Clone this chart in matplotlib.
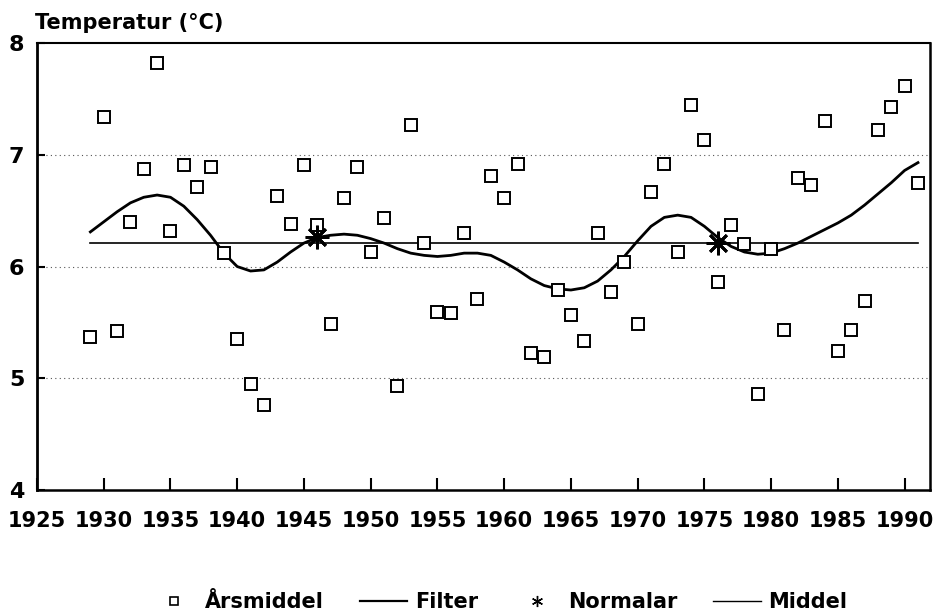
import matplotlib
matplotlib.use("Agg")
import matplotlib.pyplot as plt
from matplotlib.lines import Line2D

# Årsmiddel (annual mean temperature)
years = list(range(1929, 1992))
arsmiddel = [
    5.37, 7.34, 5.42, 6.40, 6.87, 7.82, 6.32, 6.91, 6.71, 6.89,  # 1929-1938
    6.12, 5.35, 4.95, 4.76, 6.63, 6.38, 6.91, 6.37, 5.49, 6.61,  # 1939-1948
    6.89, 6.13, 6.43, 4.93, 7.27, 6.21, 5.59, 5.58, 6.30, 5.71,  # 1949-1958
    6.81, 6.61, 6.92, 5.23, 5.19, 5.79, 5.57, 5.33, 6.30, 5.77,  # 1959-1968
    6.04, 5.49, 6.67, 6.92, 6.13, 7.45, 7.13, 5.86, 6.37, 6.20,  # 1969-1978
    4.86, 6.16, 5.43, 6.79, 6.73, 7.30, 5.24, 5.43, 5.69, 7.22,  # 1979-1988
    7.43, 7.62, 6.75,                                            # 1989-1991
]

# Filter (smoothed curve, read per year)
filter_vals = [
    6.31, 6.40, 6.49, 6.57, 6.62, 6.64, 6.62, 6.54, 6.42, 6.28,
    6.12, 6.00, 5.96, 5.97, 6.04, 6.13, 6.21, 6.26, 6.28, 6.29,
    6.28, 6.25, 6.21, 6.16, 6.12, 6.10, 6.09, 6.10, 6.12, 6.12,
    6.10, 6.04, 5.97, 5.89, 5.83, 5.80, 5.79, 5.81, 5.87, 5.97,
    6.09, 6.23, 6.36, 6.44, 6.46, 6.44, 6.36, 6.26, 6.18, 6.13,
    6.11, 6.12, 6.16, 6.21, 6.27, 6.33, 6.39, 6.46, 6.55, 6.65,
    6.75, 6.86, 6.93,
]

# Normalar
normal_years = [1946, 1976]
normal_vals = [6.26, 6.21]

# Middel
middel_years = [1929, 1991]
middel_val = 6.21

xticks = list(range(1925, 1991, 5))
yticks = [4, 5, 6, 7, 8]

plt.rcParams['font.family'] = ['DejaVu Sans']
plt.rcParams['font.weight'] = 'bold'

fig = plt.figure(figsize=(9.34, 6.16), dpi=100)
ax = fig.add_axes([0.0396, 0.2045, 0.9561, 0.7256])

# grid lines at 5, 6, 7
for g in [5, 6, 7]:
    ax.axhline(g, color='#555555', linestyle=(0, (1, 3)), linewidth=0.8, zorder=1)

ax.plot(middel_years, [middel_val, middel_val], color='black', linewidth=1.2, zorder=2)
ax.plot(years, filter_vals, color='black', linewidth=2.0, zorder=3)
ax.plot(years, arsmiddel, linestyle='none', marker='s', markersize=8.5,
        markerfacecolor='white', markeredgecolor='black', markeredgewidth=1.4, zorder=4)
ax.plot(normal_years, normal_vals, linestyle='none', marker=(8, 2, 0), markersize=17,
        markeredgecolor='black', markeredgewidth=2.0, zorder=5)

ax.set_xlim(1925, 1991.9)
ax.set_ylim(4, 8)
ax.set_xticks(xticks)
ax.set_yticks(yticks)
ax.tick_params(axis='x', direction='in', length=9, width=1.5, labelsize=15, pad=15)
ax.tick_params(axis='y', direction='in', length=6, width=1.5, labelsize=16, pad=9)
for lab in ax.get_xticklabels() + ax.get_yticklabels():
    lab.set_fontweight('bold')

ax.spines['left'].set_linewidth(2.0)
ax.spines['bottom'].set_linewidth(1.8)
ax.spines['top'].set_linewidth(1.5)
ax.spines['right'].set_linewidth(1.8)

fig.text(0.0375, 0.963, 'Temperatur (°C)', fontsize=15, fontweight='bold',
         ha='left', va='center')

handles = [
    Line2D([], [], linestyle='none', marker='s', markersize=6, markerfacecolor='white',
           markeredgecolor='black', markeredgewidth=1.2),
    Line2D([], [], color='black', linewidth=1.6),
    Line2D([], [], linestyle='none', marker=(6, 2, 0), markersize=8,
           markeredgecolor='black', markeredgewidth=1.0),
    Line2D([], [], color='black', linewidth=1.0),
]
labels = ['Årsmiddel', 'Filter', 'Normalar', 'Middel']
fig.legend(handles, labels, loc='center', bbox_to_anchor=(0.534, 0.022), ncol=4,
           frameon=False, prop={'size': 15, 'weight': 'bold'},
           handlelength=2.3, handletextpad=0.35, columnspacing=1.7)

fig.savefig('out.png', dpi=100)
